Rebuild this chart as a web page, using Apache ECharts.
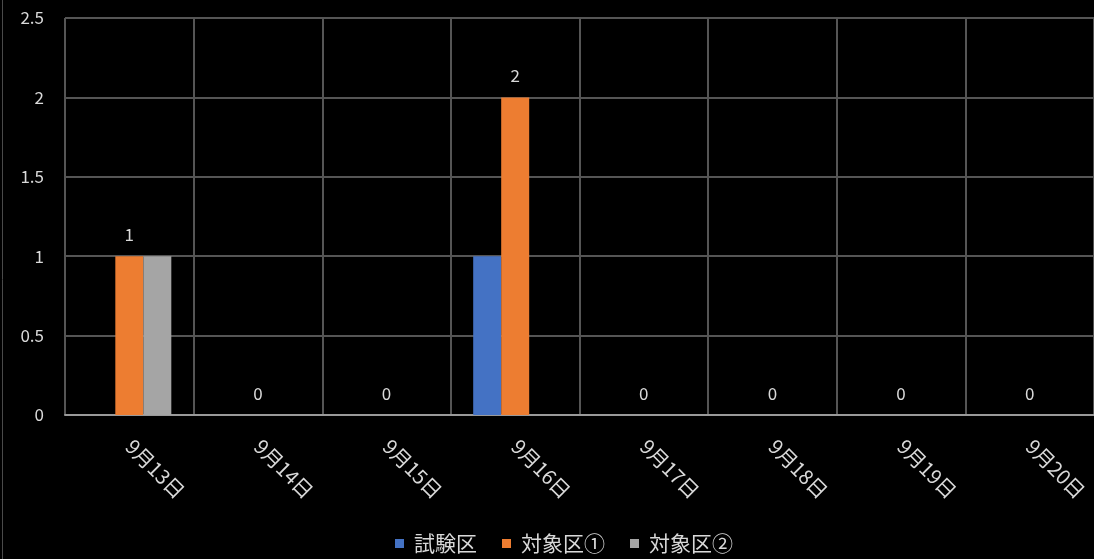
<!DOCTYPE html>
<html>
<head>
<meta charset="utf-8">
<script src="https://cdn.jsdelivr.net/npm/echarts@6/dist/echarts.min.js"></script>
<style>
html,body{margin:0;padding:0;background:#000;}
#chart{width:1094px;height:559px;}
</style>
</head>
<body>
<div id="chart"></div>
<script>
var categories = ['9月13日','9月14日','9月15日','9月16日','9月17日','9月18日','9月19日','9月20日'];
var seriesNames = ['試験区','対象区①','対象区②'];
var shikenku = [0,0,0,1,0,0,0,0];
var taishoku1 = [1,0,0,2,0,0,0,0];
var taishoku2 = [1,0,0,0,0,0,0,0];
var yTicks = [0,0.5,1,1.5,2,2.5];

var FONT = '"Noto Sans CJK JP","Noto Sans",sans-serif';
var TXT = '#d9d9d9';
var GRIDC = '#555555';

var chart = echarts.init(document.getElementById('chart'));
chart.setOption({
  backgroundColor: '#000000',
  animation: false,
  textStyle: {fontFamily: FONT},
  graphic: [{
    type: 'line', shape: {x1: 2.5, y1: 0, x2: 2.5, y2: 559},
    style: {stroke: '#4a4a4a', lineWidth: 1}
  }],
  legend: {
    data: seriesNames,
    bottom: 0,
    left: 390,
    itemWidth: 9,
    itemHeight: 9,
    itemGap: 25,
    icon: 'rect',
    textStyle: {color: TXT, fontSize: 21, fontFamily: FONT, padding: [0, 0, 0, 5]}
  },
  grid: {left: 65, top: 18, width: 1032, height: 397, containLabel: false},
  xAxis: {
    type: 'category',
    data: categories,
    boundaryGap: true,
    axisLine: {show: true, lineStyle: {color: '#9a9a9a', width: 2}},
    axisTick: {show: false},
    splitLine: {show: true, interval: 0, lineStyle: {color: GRIDC, width: 2}},
    axisLabel: {
      interval: 0, rotate: -45, color: TXT, fontSize: 20, fontFamily: FONT, margin: 28
    }
  },
  yAxis: {
    type: 'value',
    min: yTicks[0],
    max: yTicks[yTicks.length - 1],
    interval: 0.5,
    axisLine: {show: false},
    axisTick: {show: false},
    splitLine: {show: true, lineStyle: {color: GRIDC, width: 2}},
    axisLabel: {color: TXT, fontSize: 17, fontFamily: FONT, margin: 21}
  },
  series: [
    {name: seriesNames[0], type: 'bar', data: shikenku, barWidth: 28, barGap: '0%',
     itemStyle: {color: '#4472C4'}},
    {name: seriesNames[1], type: 'bar', data: taishoku1, barWidth: 28, barGap: '0%',
     itemStyle: {color: '#ED7D31'},
     label: {show: true, position: 'top', distance: 13, color: TXT, fontSize: 17, fontFamily: FONT}},
    {name: seriesNames[2], type: 'bar', data: taishoku2, barWidth: 28, barGap: '0%',
     itemStyle: {color: '#A5A5A5'}}
  ]
});
</script>
</body>
</html>
